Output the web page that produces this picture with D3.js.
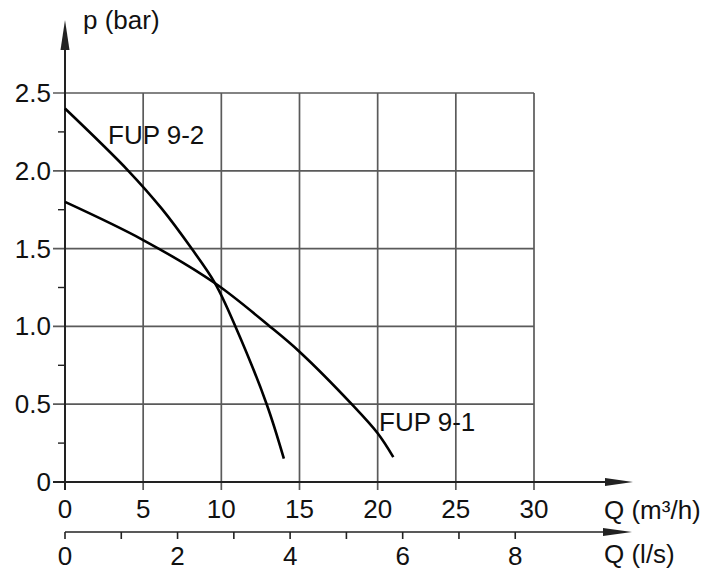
<!DOCTYPE html>
<html>
<head>
<meta charset="utf-8">
<script src="https://cdn.jsdelivr.net/npm/d3@7"></script>
<style>
  body { margin: 0; background: #fff; }
  text { font-family: "Liberation Sans", Arial, sans-serif; fill: #111; }
</style>
</head>
<body>
<div class="chart"></div>
<script>
// Pump curves: flow Q (m³/h) vs pressure p (bar)
var fup92Q = [0, 4.05, 6.2, 8.1, 9.6, 10.9, 12.9, 14.0];
var fup92P = [2.40, 2.0, 1.755, 1.5, 1.277, 1.0, 0.5, 0.15];
var fup91Q = [0, 5, 9.6, 13.1, 15, 18.34, 20, 21.0];
var fup91P = [1.80, 1.555, 1.277, 1.0, 0.837, 0.5, 0.313, 0.16];

var qTicks = [0, 5, 10, 15, 20, 25, 30];
var pTicks = [0, 0.5, 1.0, 1.5, 2.0, 2.5];
var pMinor = [0.25, 0.75, 1.25, 1.75, 2.25];
var lsTicks = [0, 1, 2, 3, 4, 5, 6, 7, 8];
var lsLabels = [0, 2, 4, 6, 8];

var svgWidth = 711;
var svgHeight = 570;
var fontSize = 26;

var svg = d3.select(".chart")
  .append("svg")
  .attr("width", svgWidth)
  .attr("height", svgHeight);

// scales
var x = d3.scaleLinear().domain([0, 30]).range([65, 534]);
var y = d3.scaleLinear().domain([0, 2.5]).range([482, 93]);
// l/s axis: 1 l/s = 3.6 m³/h
var xLs = d3.scaleLinear().domain([0, 1]).range([x(0), x(3.6)]);

var gridColor = "#5a5a5a";
var axisColor = "#222";

// vertical grid lines (down through the axis as ticks)
svg.append("g").selectAll("line")
  .data(qTicks)
  .enter().append("line")
  .attr("x1", d => x(d)).attr("x2", d => x(d))
  .attr("y1", y(2.5)).attr("y2", y(0) + 8)
  .attr("stroke", d => d === 0 ? axisColor : gridColor)
  .attr("stroke-width", d => d === 0 ? 2 : 1.7);

// horizontal grid lines (extend left as ticks)
svg.append("g").selectAll("line")
  .data(pTicks)
  .enter().append("line")
  .attr("x1", x(0) - 12).attr("x2", x(30))
  .attr("y1", d => y(d)).attr("y2", d => y(d))
  .attr("stroke", d => d === 0 ? axisColor : gridColor)
  .attr("stroke-width", d => d === 0 ? 2 : 1.7);

// minor y ticks
svg.append("g").selectAll("line")
  .data(pMinor)
  .enter().append("line")
  .attr("x1", x(0) - 7).attr("x2", x(0))
  .attr("y1", d => y(d)).attr("y2", d => y(d))
  .attr("stroke", axisColor)
  .attr("stroke-width", 1.4);

// y axis line with arrow
svg.append("line")
  .attr("x1", x(0)).attr("x2", x(0))
  .attr("y1", y(0)).attr("y2", 40)
  .attr("stroke", axisColor).attr("stroke-width", 2);
svg.append("path")
  .attr("d", `M${x(0)},20 L${x(0) - 4.5},50 L${x(0) + 4.5},50 Z`)
  .attr("fill", axisColor);

// x axis line with arrow
svg.append("line")
  .attr("x1", x(0)).attr("x2", 615)
  .attr("y1", y(0)).attr("y2", y(0))
  .attr("stroke", axisColor).attr("stroke-width", 2);
svg.append("path")
  .attr("d", `M633,${y(0)} L605,${y(0) - 4} L605,${y(0) + 4} Z`)
  .attr("fill", axisColor);

// second (l/s) axis
var lsY = 532;
svg.append("line")
  .attr("x1", xLs(0)).attr("x2", 612)
  .attr("y1", lsY).attr("y2", lsY)
  .attr("stroke", axisColor).attr("stroke-width", 1.6);
svg.append("path")
  .attr("d", `M632,${lsY} L603,${lsY - 4} L603,${lsY + 4} Z`)
  .attr("fill", axisColor);
svg.append("g").selectAll("line")
  .data(lsTicks)
  .enter().append("line")
  .attr("x1", d => xLs(d)).attr("x2", d => xLs(d))
  .attr("y1", lsY).attr("y2", lsY + 7)
  .attr("stroke", axisColor).attr("stroke-width", 1.6);

// tick labels
svg.append("g").selectAll("text")
  .data(qTicks)
  .enter().append("text")
  .attr("x", d => x(d))
  .attr("y", 518)
  .attr("text-anchor", "middle")
  .attr("font-size", fontSize)
  .text(d => d);

svg.append("g").selectAll("text")
  .data(pTicks)
  .enter().append("text")
  .attr("x", 51)
  .attr("y", d => y(d) + 9)
  .attr("text-anchor", "end")
  .attr("font-size", fontSize)
  .text(d => d === 0 ? "0" : d.toFixed(1));

svg.append("g").selectAll("text")
  .data(lsLabels)
  .enter().append("text")
  .attr("x", d => xLs(d))
  .attr("y", 565)
  .attr("text-anchor", "middle")
  .attr("font-size", fontSize)
  .text(d => d);

// axis titles
svg.append("text").attr("x", 83).attr("y", 29).attr("font-size", fontSize).text("p (bar)");
svg.append("text").attr("x", 604).attr("y", 519).attr("font-size", fontSize).text("Q (m³/h)");
svg.append("text").attr("x", 604).attr("y", 563).attr("font-size", fontSize).text("Q (l/s)");

// curves
var line = d3.line()
  .x(d => x(d[0]))
  .y(d => y(d[1]))
  .curve(d3.curveCatmullRom.alpha(0.5));

var curves = [
  { name: "FUP 9-2", pts: d3.zip(fup92Q, fup92P), lx: 108, ly: 144 },
  { name: "FUP 9-1", pts: d3.zip(fup91Q, fup91P), lx: 379, ly: 431 }
];

svg.append("g").selectAll("path")
  .data(curves)
  .enter().append("path")
  .attr("d", d => line(d.pts))
  .attr("fill", "none")
  .attr("stroke", "#000")
  .attr("stroke-width", 2.6);

svg.append("g").selectAll("text")
  .data(curves)
  .enter().append("text")
  .attr("x", d => d.lx)
  .attr("y", d => d.ly)
  .attr("font-size", fontSize)
  .text(d => d.name);
</script>
</body>
</html>
